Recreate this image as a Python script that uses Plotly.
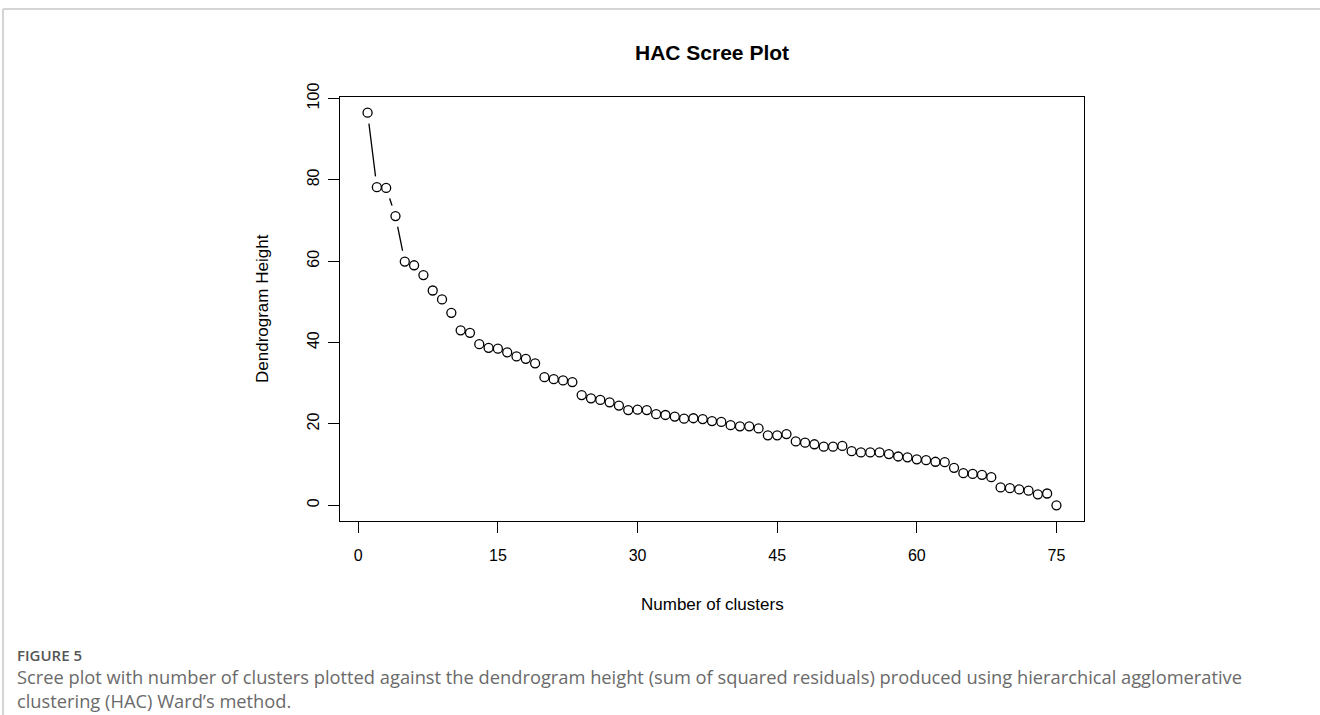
import plotly.graph_objects as go

clusters = list(range(1, 76))
heights = [96.5, 78.2, 78.0, 71.1, 59.9, 59.0, 56.6, 52.8, 50.6, 47.3,
           43.0, 42.4, 39.6, 38.7, 38.5, 37.6, 36.6, 36.0, 34.9, 31.5,
           31.0, 30.7, 30.3, 27.1, 26.3, 25.9, 25.3, 24.5, 23.4, 23.5,
           23.4, 22.4, 22.2, 21.8, 21.3, 21.4, 21.2, 20.7, 20.5, 19.7,
           19.4, 19.4, 18.9, 17.2, 17.2, 17.5, 15.7, 15.4, 15.0, 14.4,
           14.4, 14.6, 13.3, 13.0, 13.0, 13.0, 12.6, 12.0, 11.8, 11.3,
           11.1, 10.7, 10.6, 9.2, 7.9, 7.7, 7.5, 6.9, 4.4, 4.2,
           3.9, 3.6, 2.7, 2.9, 0.0]
x_ticks = [0, 15, 30, 45, 60, 75]
y_ticks = [0, 20, 40, 60, 80, 100]

W, H = 1320, 715
L, R, T, B = 340, 1084, 97, 521

def px(x):
    return (x - L) / (R - L)

def py(y):
    return (B - y) / (B - T)

fig = go.Figure()
# connecting line (type="b")
fig.add_trace(go.Scatter(x=clusters, y=heights, mode="lines",
                         line=dict(color="black", width=1.3),
                         hoverinfo="skip", showlegend=False))
# white gaps around points
fig.add_trace(go.Scatter(x=clusters, y=heights, mode="markers",
                         marker=dict(symbol="circle", size=22, color="white",
                                     line=dict(width=0)),
                         hoverinfo="skip", showlegend=False))
# open circles
fig.add_trace(go.Scatter(x=clusters, y=heights, mode="markers",
                         marker=dict(symbol="circle", size=9, color="white",
                                     line=dict(color="black", width=1.3)),
                         showlegend=False))

axis_common = dict(showgrid=False, zeroline=False, showline=True, mirror=True,
                   linecolor="black", linewidth=1.3, ticks="outside",
                   ticklen=11, tickwidth=1.3, tickcolor="black",
                   tickfont=dict(family="Liberation Sans, Arial", size=16, color="black"))

fig.update_xaxes(range=[-1.96, 77.96], tickvals=x_ticks, ticktext=[str(v) for v in x_ticks],
                 ticklabelstandoff=9, **axis_common)
fig.update_yaxes(range=[-3.86, 100.36], tickvals=y_ticks, ticktext=[str(v) for v in y_ticks],
                 tickangle=-90, ticklabelstandoff=2, **axis_common)

caption = ("Scree plot with number of clusters plotted against the dendrogram height (sum of squared "
           "residuals) produced using hierarchical agglomerative<br>clustering (HAC) Ward\u2019s method.")

annotations = [
    dict(text="<b>HAC Scree Plot</b>", x=px(712), y=py(52), xref="paper", yref="paper",
         showarrow=False, xanchor="center", yanchor="middle",
         font=dict(family="Liberation Sans, Arial", size=21, color="black")),
    dict(text="Number of clusters", x=px(712), y=py(604), xref="paper", yref="paper",
         showarrow=False, xanchor="center", yanchor="middle",
         font=dict(family="Liberation Sans, Arial", size=17, color="black")),
    dict(text="Dendrogram Height", x=px(262), y=py(309), xref="paper", yref="paper",
         showarrow=False, xanchor="center", yanchor="middle", textangle=-90,
         font=dict(family="Liberation Sans, Arial", size=17, color="black")),
    dict(text="FIGURE 5", x=px(15), y=py(655), xref="paper", yref="paper",
         showarrow=False, xanchor="left", yanchor="middle",
         font=dict(family="Open Sans", size=15, color="#555555", weight=600)),
    dict(text=caption, x=px(15), y=py(688), xref="paper", yref="paper",
         showarrow=False, xanchor="left", yanchor="middle", align="left",
         font=dict(family="Open Sans", size=18.3, color="#6a6a6a")),
]

shapes = [
    dict(type="line", xref="paper", yref="paper", x0=px(3), x1=px(1320), y0=py(9), y1=py(9),
         line=dict(color="#d4d4d4", width=2)),
    dict(type="line", xref="paper", yref="paper", x0=px(3), x1=px(3), y0=py(9), y1=py(715),
         line=dict(color="#d4d4d4", width=2)),
]

fig.update_layout(width=W, height=H, margin=dict(l=L, r=W - R, t=T, b=H - B),
                  plot_bgcolor="white", paper_bgcolor="white",
                  annotations=annotations, shapes=shapes, showlegend=False)

fig.write_html("out.html")
